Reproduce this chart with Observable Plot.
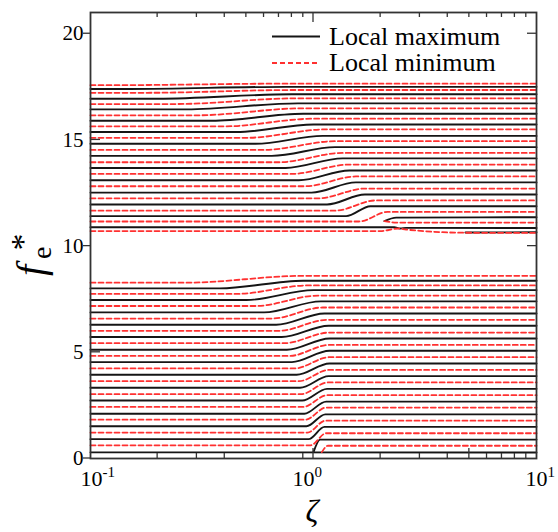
<!DOCTYPE html>
<html><head><meta charset="utf-8">
<script src="https://cdn.jsdelivr.net/npm/d3@7"></script>
<script src="https://cdn.jsdelivr.net/npm/@observablehq/plot@0.6"></script>
<style>body{margin:0;background:#fff;}</style>
</head><body><div id="chart"></div>
<script>
// ---- tick values / labels ----
const xLabelTicks = [0.1, 1, 10];
const xLabelExponents = ["-1", "0", "1"];
const xLabelShift = [-10, -21, -11];
const yLabelTicks = [0, 5, 10, 15, 20];
const xTopMinor = [0.2,0.3,0.4,0.5,0.6,0.7,0.8,0.9,2,3,4,5,6,7,8,9];
const xTopLong = [1];
const xBottomMinor = [0.2,0.3,0.4,0.9,2,3,4,6,7,8,9];
const xBottomLong = [1,5];
const yLeftOut = [0,10,20];
const yLeftIn = [5,15];
const yRightIn = [10,20];
const legendNames = ["Local maximum", "Local minimum"];

// ---- lower band: curves that step up near ζ≈1 ----
// level at ζ=0.1, ζ where bend starts, ζ where bend ends, level at ζ=10
const lowMaxLeft  = [0.91,1.52,2.11,2.73,3.33,3.94,4.54,5.12,5.72,6.30,6.88,7.46,8.01];
const lowMaxFrom  = [0.95,0.93,0.91,0.89,0.87,0.84,0.80,0.76,0.72,0.68,0.60,0.50,0.38];
const lowMaxTo    = [1.12,1.13,1.14,1.15,1.17,1.18,1.18,1.18,1.17,1.12,1.08,1.00,0.90];
const lowMaxRight = [1.49,2.08,2.68,3.28,3.88,4.47,5.07,5.65,6.25,6.83,7.40,7.93,8.37];

const lowMinLeft  = [0.62,1.22,1.83,2.43,3.03,3.64,4.24,4.83,5.43,6.01,6.59,7.18,7.75,8.28];
const lowMinFrom  = [0.97,0.94,0.92,0.90,0.88,0.86,0.82,0.78,0.74,0.70,0.65,0.55,0.45,0.27];
const lowMinTo    = [1.14,1.13,1.14,1.15,1.16,1.17,1.18,1.18,1.18,1.15,1.10,1.05,0.95,0.90];
const lowMinRight = [1.19,1.78,2.40,2.98,3.58,4.17,4.77,5.35,5.93,6.53,7.11,7.67,8.15,8.60];

// ---- upper band ----
const upMaxLeft  = [11.41,11.96,12.52,13.10,13.68,14.25,14.82,15.37,15.90,16.44,16.94,17.40];
const upMaxFrom  = [1.40,1.15,0.98,0.86,0.75,0.65,0.55,0.45,0.35,0.27,0.20,0.15];
const upMaxTo    = [1.80,1.70,1.55,1.45,1.35,1.25,1.10,1.00,0.90,0.85,0.80,0.75];
const upMaxRight = [11.88,12.43,13.00,13.56,14.13,14.66,15.19,15.73,16.23,16.72,17.15,17.50];

const upMinLeft  = [11.16,11.67,12.25,12.82,13.40,13.95,14.53,15.10,15.64,16.16,16.69,17.22,17.58];
const upMinFrom  = [1.60,1.25,1.05,0.92,0.80,0.70,0.60,0.50,0.40,0.30,0.24,0.18,0.13];
const upMinTo    = [2.15,1.90,1.70,1.55,1.45,1.35,1.25,1.15,1.00,0.90,0.85,0.80,0.75];
const upMinRight = [11.61,12.15,12.71,13.28,13.84,14.39,14.94,15.50,16.00,16.49,16.96,17.35,17.65];

// ---- special branches (ζ, f*) ----
const lowMaxFlat   = [[0.1,0.29],[10,0.28]];
const lowMaxBorn   = [[1.0,0.30],[1.07,0.89],[10,0.89]];
const lowMinBorn   = [[1.09,0.30],[1.16,0.60],[10,0.60]];
const upMinLowest  = [[0.1,10.71],[2.0,10.71],[2.4,10.83],[2.6,10.78],[4.8,10.63],[10,10.62]];
const upMaxLowest  = [[0.1,10.89],[2.3,10.89],[2.45,10.83],[2.6,10.86],[10,10.85]];
const upMaxBorn    = [[2.08,11.18],[2.35,11.34],[10,11.36]];
const upMinBorn    = [[2.08,11.18],[2.35,11.11],[10,11.11]];
const upMaxTail    = [[4.8,10.64],[10,10.65]];

// ---- build tables ----
function bent(left, from, to, right, prefix) {
  return left.flatMap((L, i) => [
    {id: prefix + i, z: 0.1, f: L},
    {id: prefix + i, z: from[i], f: L},
    {id: prefix + i, z: to[i], f: right[i]},
    {id: prefix + i, z: 10, f: right[i]}
  ]);
}
function pts(arr, id) { return arr.map(([z, f]) => ({id, z, f})); }

const maxData = [
  ...bent(lowMaxLeft, lowMaxFrom, lowMaxTo, lowMaxRight, "lM"),
  ...bent(upMaxLeft, upMaxFrom, upMaxTo, upMaxRight, "uM"),
  ...pts(lowMaxFlat, "s1"), ...pts(lowMaxBorn, "s2"),
  ...pts(upMaxLowest, "s3"), ...pts(upMaxBorn, "s4"), ...pts(upMaxTail, "s5")
];
const minData = [
  ...bent(lowMinLeft, lowMinFrom, lowMinTo, lowMinRight, "lm"),
  ...bent(upMinLeft, upMinFrom, upMinTo, upMinRight, "um"),
  ...pts(lowMinBorn, "t1"), ...pts(upMinLowest, "t2"), ...pts(upMinBorn, "t3")
];

const BLACK = "#151515", RED = "#ff3030", FONT = "'Liberation Serif', 'DejaVu Serif', serif";

const plot = Plot.plot({
  width: 558, height: 532,
  marginLeft: 90, marginRight: 22, marginTop: 12, marginBottom: 74,
  x: {type: "log", domain: [0.1, 10]},
  y: {domain: [0, 21]},
  style: {fontFamily: FONT, background: "white", color: "black"},
  marks: [
    Plot.line(maxData, {x: "z", y: "f", z: "id", stroke: BLACK, strokeWidth: 1.9, curve: "monotone-x"}),
    Plot.line(minData, {x: "z", y: "f", z: "id", stroke: RED, strokeWidth: 1.8, strokeDasharray: "5,3", curve: "monotone-x"}),
    Plot.frame({stroke: "#333", strokeWidth: 1.8}),
    Plot.axisY(yLabelTicks, {tickSize: 0, tickPadding: 7, fontSize: 21, label: null}),
    Plot.axisX(xLabelTicks, {tickSize: 0, tickPadding: 12, fontSize: 22, label: null, tickFormat: () => "10"})
  ]
});
document.getElementById("chart").appendChild(plot);

const svg = d3.select(plot);
const xs = plot.scale("x"), ys = plot.scale("y");
const xL = xs.apply(0.1), xR = xs.apply(10), yB = ys.apply(0), yT = ys.apply(21);

// superscript exponents on x tick labels
svg.selectAll('g[aria-label="x-axis tick label"] text').each(function(d, i) {
  const t = d3.select(this);
  t.attr("text-anchor", "start").attr("dx", xLabelShift[i]);
  t.append("tspan").attr("dy", -9).attr("font-size", 15).text(xLabelExponents[i]);
});

// ticks
const tg = svg.append("g").attr("stroke", "#333").attr("stroke-width", 1.3);
xTopMinor.forEach(v => tg.append("line").attr("x1", xs.apply(v)).attr("x2", xs.apply(v)).attr("y1", yT).attr("y2", yT + 5));
xTopLong.forEach(v => tg.append("line").attr("x1", xs.apply(v)).attr("x2", xs.apply(v)).attr("y1", yT).attr("y2", yT + 10));
xBottomMinor.forEach(v => tg.append("line").attr("x1", xs.apply(v)).attr("x2", xs.apply(v)).attr("y1", yB).attr("y2", yB - 5));
xBottomLong.forEach(v => tg.append("line").attr("x1", xs.apply(v)).attr("x2", xs.apply(v)).attr("y1", yB).attr("y2", yB - 10));
yLeftOut.forEach(v => tg.append("line").attr("x1", xL - 7).attr("x2", xL).attr("y1", ys.apply(v)).attr("y2", ys.apply(v)));
yLeftIn.forEach(v => tg.append("line").attr("x1", xL).attr("x2", xL + 10).attr("y1", ys.apply(v)).attr("y2", ys.apply(v)));
yRightIn.forEach(v => tg.append("line").attr("x1", xR - 9).attr("x2", xR).attr("y1", ys.apply(v)).attr("y2", ys.apply(v)));

// legend
const lg = svg.append("g").attr("font-family", FONT).attr("font-size", 26).attr("text-anchor", "start");
[BLACK, RED].forEach((c, i) => {
  lg.append("line").attr("x1", 272).attr("x2", 320).attr("y1", 36.5 + 26.5 * i).attr("y2", 36.5 + 26.5 * i)
    .attr("stroke", c).attr("stroke-width", 2).attr("stroke-dasharray", i ? "5,3" : null);
  lg.append("text").attr("x", 329).attr("y", 44.5 + 26.5 * i).attr("text-anchor", "start").text(legendNames[i]);
});

// x label ζ
svg.append("text").attr("x", xs.apply(1) - 1).attr("y", 522).attr("text-anchor", "middle")
  .attr("font-family", FONT).attr("font-style", "italic").attr("font-size", 32).text("ζ");

// y label f_e*
const yl = svg.append("text").attr("transform", "translate(44,276) rotate(-90)")
  .attr("font-family", FONT).attr("font-size", 40).attr("text-anchor", "start");
yl.append("tspan").attr("font-style", "italic").text("f");
yl.append("tspan").attr("font-size", 28).attr("dx", 6).attr("dy", 7).text("e");
yl.append("tspan").attr("font-size", 34).attr("dx", -4).attr("dy", -17).text("*");
</script>
</body></html>
